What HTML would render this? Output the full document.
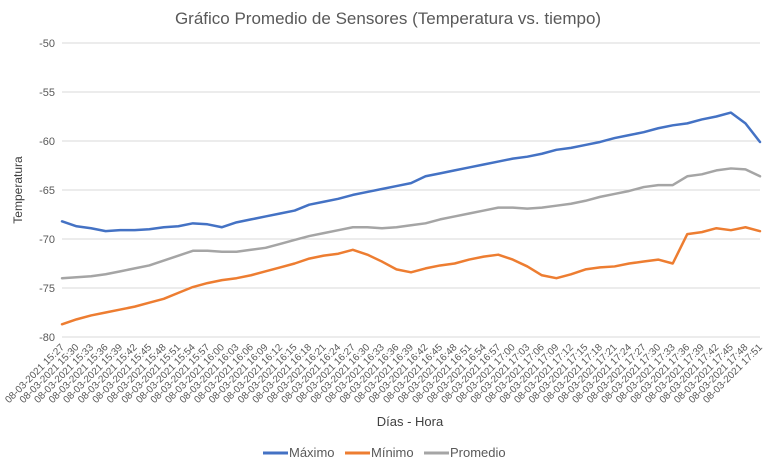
<!DOCTYPE html>
<html><head><meta charset="utf-8"><style>
body{margin:0;background:#fff;}
svg{font-family:"Liberation Sans",sans-serif;}
</style></head><body>
<svg width="776" height="463" viewBox="0 0 776 463" xmlns="http://www.w3.org/2000/svg">
<text x="388" y="24" text-anchor="middle" font-size="17" fill="#595959">Gráfico Promedio de Sensores (Temperatura vs. tiempo)</text>
<g id="grid"></g><g id="yt"></g><g id="xt"></g><g id="series"></g>
<text transform="translate(22,190) rotate(-90)" text-anchor="middle" font-size="12" fill="#404040">Temperatura</text>
<text x="410" y="426" text-anchor="middle" font-size="13" fill="#404040">Días - Hora</text>
<g font-size="13" fill="#595959">
<line x1="263" y1="453" x2="288" y2="453" stroke="#4472C4" stroke-width="3"/><text x="289" y="457">Máximo</text>
<line x1="345" y1="453" x2="370" y2="453" stroke="#ED7D31" stroke-width="3"/><text x="371" y="457">Mínimo</text>
<line x1="424" y1="453" x2="449" y2="453" stroke="#A5A5A5" stroke-width="3"/><text x="450" y="457">Promedio</text>
</g>
</svg>
<script>
const yTicks=[-50,-55,-60,-65,-70,-75,-80];
const maximo=[-68.2,-68.7,-68.9,-69.2,-69.1,-69.1,-69.0,-68.8,-68.7,-68.4,-68.5,-68.8,-68.3,-68.0,-67.7,-67.4,-67.1,-66.5,-66.2,-65.9,-65.5,-65.2,-64.9,-64.6,-64.3,-63.6,-63.3,-63.0,-62.7,-62.4,-62.1,-61.8,-61.6,-61.3,-60.9,-60.7,-60.4,-60.1,-59.7,-59.4,-59.1,-58.7,-58.4,-58.2,-57.8,-57.5,-57.1,-58.2,-60.1];
const minimo=[-78.7,-78.2,-77.8,-77.5,-77.2,-76.9,-76.5,-76.1,-75.5,-74.9,-74.5,-74.2,-74.0,-73.7,-73.3,-72.9,-72.5,-72.0,-71.7,-71.5,-71.1,-71.6,-72.3,-73.1,-73.4,-73.0,-72.7,-72.5,-72.1,-71.8,-71.6,-72.1,-72.8,-73.7,-74.0,-73.6,-73.1,-72.9,-72.8,-72.5,-72.3,-72.1,-72.5,-69.5,-69.3,-68.9,-69.1,-68.8,-69.2];
const promedio=[-74.0,-73.9,-73.8,-73.6,-73.3,-73.0,-72.7,-72.2,-71.7,-71.2,-71.2,-71.3,-71.3,-71.1,-70.9,-70.5,-70.1,-69.7,-69.4,-69.1,-68.8,-68.8,-68.9,-68.8,-68.6,-68.4,-68.0,-67.7,-67.4,-67.1,-66.8,-66.8,-66.9,-66.8,-66.6,-66.4,-66.1,-65.7,-65.4,-65.1,-64.7,-64.5,-64.5,-63.6,-63.4,-63.0,-62.8,-62.9,-63.6];
const categories=[];
for(let m=15*60+27;m<=17*60+51;m+=3){categories.push('08-03-2021 '+String(Math.floor(m/60)).padStart(2,'0')+':'+String(m%60).padStart(2,'0'));}
const NS='http://www.w3.org/2000/svg';
const X0=62,X1=760,Y0=43,Y1=337;
const xs=i=>X0+i*(X1-X0)/(categories.length-1);
const ys=v=>Y0+(-50-v)*(Y1-Y0)/30;
function mk(t,a,p){const e=document.createElementNS(NS,t);for(const k in a)e.setAttribute(k,a[k]);p.appendChild(e);return e;}
const grid=document.getElementById('grid'),yt=document.getElementById('yt'),xt=document.getElementById('xt'),ser=document.getElementById('series');
yTicks.forEach(v=>{
 const l=mk('line',{x1:X0,x2:X1,y1:ys(v),y2:ys(v),stroke:'#d9d9d9','stroke-width':1},grid);
 
 
 const t=mk('text',{x:55,y:ys(v)+4,'text-anchor':'end','font-size':11,fill:'#595959'},yt);
 
 
 t.textContent=v;
});
categories.forEach((c,i)=>{
 const x=xs(i);
 const t=mk('text',{x:x,y:349,'text-anchor':'end','font-size':10,fill:'#595959',transform:`rotate(-45 ${x} 345)`},xt);
 
 
 t.textContent=c;
});
[[promedio,'#A5A5A5','series-promedio'],[minimo,'#ED7D31','series-minimo'],[maximo,'#4472C4','series-maximo']].forEach(([d,col,n])=>{
 const p=mk('polyline',{points:d.map((v,i)=>xs(i)+','+ys(v)).join(' '),fill:'none',stroke:col,'stroke-width':2.5,'stroke-linejoin':'round','stroke-linecap':'round'},ser);
 
 
});
</script>
</body></html>
